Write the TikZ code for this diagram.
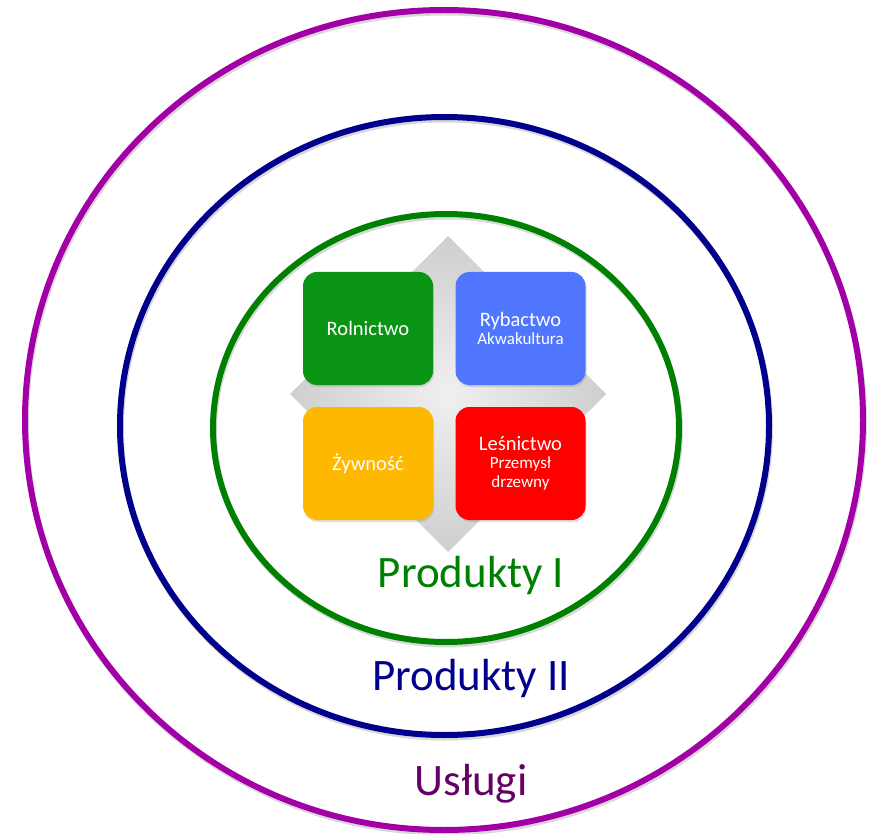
\documentclass[tikz,border=0pt]{standalone}
\usepackage{fontspec}
\setmainfont{Carlito}
\usetikzlibrary{shadows}
\definecolor{ringviolet}{RGB}{162,0,166}
\definecolor{ringnavy}{RGB}{0,0,140}
\definecolor{ringgreen}{RGB}{0,128,0}
\definecolor{textviolet}{RGB}{102,0,102}
\definecolor{boxgreen}{RGB}{10,148,20}
\definecolor{boxblue}{RGB}{80,118,255}
\definecolor{boxyellow}{RGB}{255,184,0}
\definecolor{boxred}{RGB}{255,0,0}
\tikzset{%
  every sector/.style={
    rounded corners=14pt,
    minimum width=130pt,
    minimum height=113pt,
    inner sep=2pt,
    text=white,
    align=center,
    font=\fontsize{17}{21}\selectfont,
    drop shadow={opacity=0.25, shadow xshift=1pt, shadow yshift=-2pt}
  },
  ring/.style={line width=6pt},
  ring shadow/.style={line width=6pt, draw=black!30, opacity=0.5},
  ring label/.style={font=\fontsize{45}{50}\selectfont, anchor=base},
}
\newcommand{\bigline}[1]{{\fontsize{20.5}{24}\selectfont #1}}

\begin{document}
\begin{tikzpicture}[x=1pt, y=-1pt]
\useasboundingbox (0,0) rectangle (873,834);
% the three rings
\foreach \cx/\cy/\rx/\ry/\col in {444/420/419/410/ringviolet, 444.5/426/324.5/309/ringnavy, 446/428/233/214/ringgreen}{
    \draw[ring shadow] (\cx+1,\cy+2.5) ellipse [x radius=\rx, y radius=\ry];
    \draw[ring, \col] (\cx,\cy) ellipse [x radius=\rx, y radius=\ry];
}

% grey diamond behind the boxes
\shade[inner color=gray!12, outer color=gray!38]
    (448,236) -- (606,394) -- (448,552) -- (290,394) -- cycle;

\node[every sector, fill=boxgreen]  (rolnictwo) at (368,328.5) {\bigline{Rolnictwo}};
\node[every sector, fill=boxblue]   (rybactwo)  at (520.5,328.5) {\bigline{Rybactwo}\\[-3pt]Akwakultura};
\node[every sector, fill=boxyellow] (zywnosc)   at (368,463.5) {\bigline{Żywność}};
\node[every sector, fill=boxred]    (lesnictwo) at (520.5,463.5) {\bigline{Leśnictwo}\\[-3pt]Przemysł\\[-2pt]drzewny};

\node[ring label, text=ringgreen]  (produkty1) at (471,587) {Produkty I};
\node[ring label, text=ringnavy]   (produkty2) at (471,690) {Produkty II};
\node[ring label, text=textviolet] (uslugi)    at (471,795) {Usługi};
\end{tikzpicture}
\end{document}
